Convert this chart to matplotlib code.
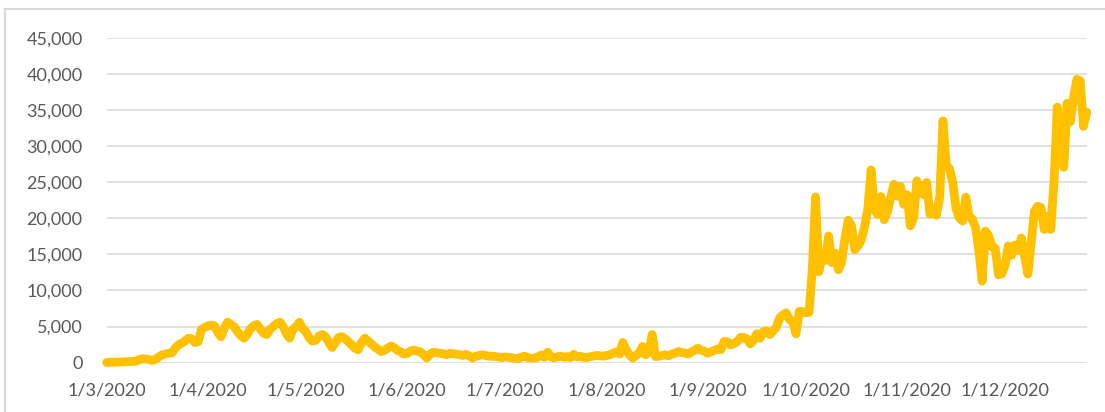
import matplotlib
matplotlib.use("Agg")
import matplotlib.pyplot as plt
from matplotlib.lines import Line2D
import pandas as pd

mar = [40, 50, 60, 70, 90, 110, 130, 150, 170, 200,
       450, 550, 500, 450, 300, 500, 800, 1100, 1200, 1300,
       1400, 2000, 2500, 2700, 3000, 3400, 3300, 2800, 2900, 4600, 4900]
apr = [5100, 5200, 5100, 4200, 3600, 4800, 5600, 5300, 5000, 4300,
       3800, 3400, 3900, 4700, 5100, 5300, 4700, 4100, 3900, 4600,
       5000, 5400, 5600, 5000, 4000, 3400, 4600, 5000, 5600, 4700]
may = [4300, 3400, 3000, 3100, 3700, 3900, 3600, 2800, 2100, 2800,
       3500, 3600, 3300, 2900, 2450, 2000, 1800, 2800, 3400, 3000,
       2600, 2200, 1900, 1550, 1700, 2000, 2300, 2100, 1700, 1500, 1200]
jun = [1300, 1600, 1750, 1600, 1500, 1100, 650, 1200, 1450, 1400,
       1300, 1250, 1100, 1300, 1250, 1200, 1100, 1000, 1150, 950,
       650, 900, 1000, 1100, 1000, 900, 900, 850, 800, 700]
jul = [800, 750, 700, 600, 550, 800, 900, 700, 600, 650,
       800, 1050, 750, 1450, 800, 650, 800, 900, 750, 850,
       700, 1150, 800, 900, 750, 700, 850, 900, 1000, 950, 900]
aug = [1000, 1100, 1300, 1500, 1200, 2800, 1800, 1100, 650, 1000,
       1300, 2250, 1100, 1500, 3900, 850, 900, 1000, 1100, 950,
       1200, 1300, 1550, 1400, 1350, 1200, 1500, 1700, 2000, 1700, 1600]
sep = [1300, 1500, 1700, 1900, 1800, 2950, 2900, 2450, 2650, 2900,
       3500, 3500, 3300, 2600, 3100, 4000, 3400, 4300, 4400, 3900,
       4400, 4900, 6200, 6600, 6900, 6000, 5700, 4000, 7100, 7100]
oct_ = [6914, 6968, 12872, 22961, 12594, 14542, 14162, 17540, 13864, 15166,
        12872, 13972, 17234, 19724, 18980, 15650, 16171, 16982, 18804, 21331,
        26688, 21242, 20530, 23012, 19790, 20890, 22885, 24701, 23065, 24405, 21915]
nov = [23254, 18950, 20018, 25177, 24141, 23287, 24957, 20572, 21350, 20412,
       22950, 33470, 27301, 26860, 24962, 21363, 20051, 19609, 22915, 20252,
       19875, 18662, 15450, 11299, 18213, 17555, 16022, 15871, 12155, 12330]
dec = [13430, 16170, 14879, 16298, 15539, 17272, 14718, 12282, 16578, 20964,
       21672, 21502, 18447, 20263, 18450, 25161, 35383, 28507, 27052, 35928,
       33364, 36804, 39237, 39036, 32725, 34693]

cases = mar + apr + may + jun + jul + aug + sep + oct_ + nov + dec
start_date = "2020-03-01"
tick_dates = ["2020-03-01", "2020-04-01", "2020-05-01", "2020-06-01", "2020-07-01",
              "2020-08-01", "2020-09-01", "2020-10-01", "2020-11-01", "2020-12-01"]
tick_labels = ["1/3/2020", "1/4/2020", "1/5/2020", "1/6/2020", "1/7/2020",
               "1/8/2020", "1/9/2020", "1/10/2020", "1/11/2020", "1/12/2020"]
y_ticks = [0, 5000, 10000, 15000, 20000, 25000, 30000, 35000, 40000, 45000]

plt.rcParams['font.family'] = ['Lato', 'DejaVu Sans']

W, H = 1105, 412
fig = plt.figure(figsize=(W / 100, H / 100), dpi=100)
fig.patch.set_facecolor('white')
left, right, top, bottom = 106.7, 1086.7, 37.7, 362.7
ax = fig.add_axes([left / W, 1 - bottom / H, (right - left) / W, (bottom - top) / H])

dates = pd.date_range(start_date, periods=len(cases), freq='D')
ax.plot(dates, cases, color='#FFC000', lw=6.3, solid_joinstyle='round',
        solid_capstyle='round', clip_on=False, zorder=3)

ax.set_xlim(dates[0], dates[-1])
ax.set_ylim(0, 45000)
ax.set_yticks(y_ticks)
ax.set_yticklabels([f"{v:,}" for v in y_ticks])
ax.set_xticks(pd.to_datetime(tick_dates))
ax.set_xticklabels(tick_labels)
ax.yaxis.grid(True, color='#D9D9D9', lw=1.1)
ax.xaxis.grid(False)
ax.set_axisbelow(True)
for s in ax.spines.values():
    s.set_visible(False)
ax.tick_params(axis='y', length=0, pad=17.3, labelsize=13, labelcolor='#595959')
ax.tick_params(axis='x', length=0, pad=14.5, labelsize=13, labelcolor='#595959')

# chart border (top and left)
fig.add_artist(Line2D([5 / W, 5 / W], [1 - 9 / H, 0], transform=fig.transFigure,
                      color='#D9D9D9', lw=1.5))
fig.add_artist(Line2D([5 / W, 1], [1 - 9 / H, 1 - 9 / H], transform=fig.transFigure,
                      color='#D9D9D9', lw=1.5))

fig.savefig("out.png", dpi=100, facecolor='white')
